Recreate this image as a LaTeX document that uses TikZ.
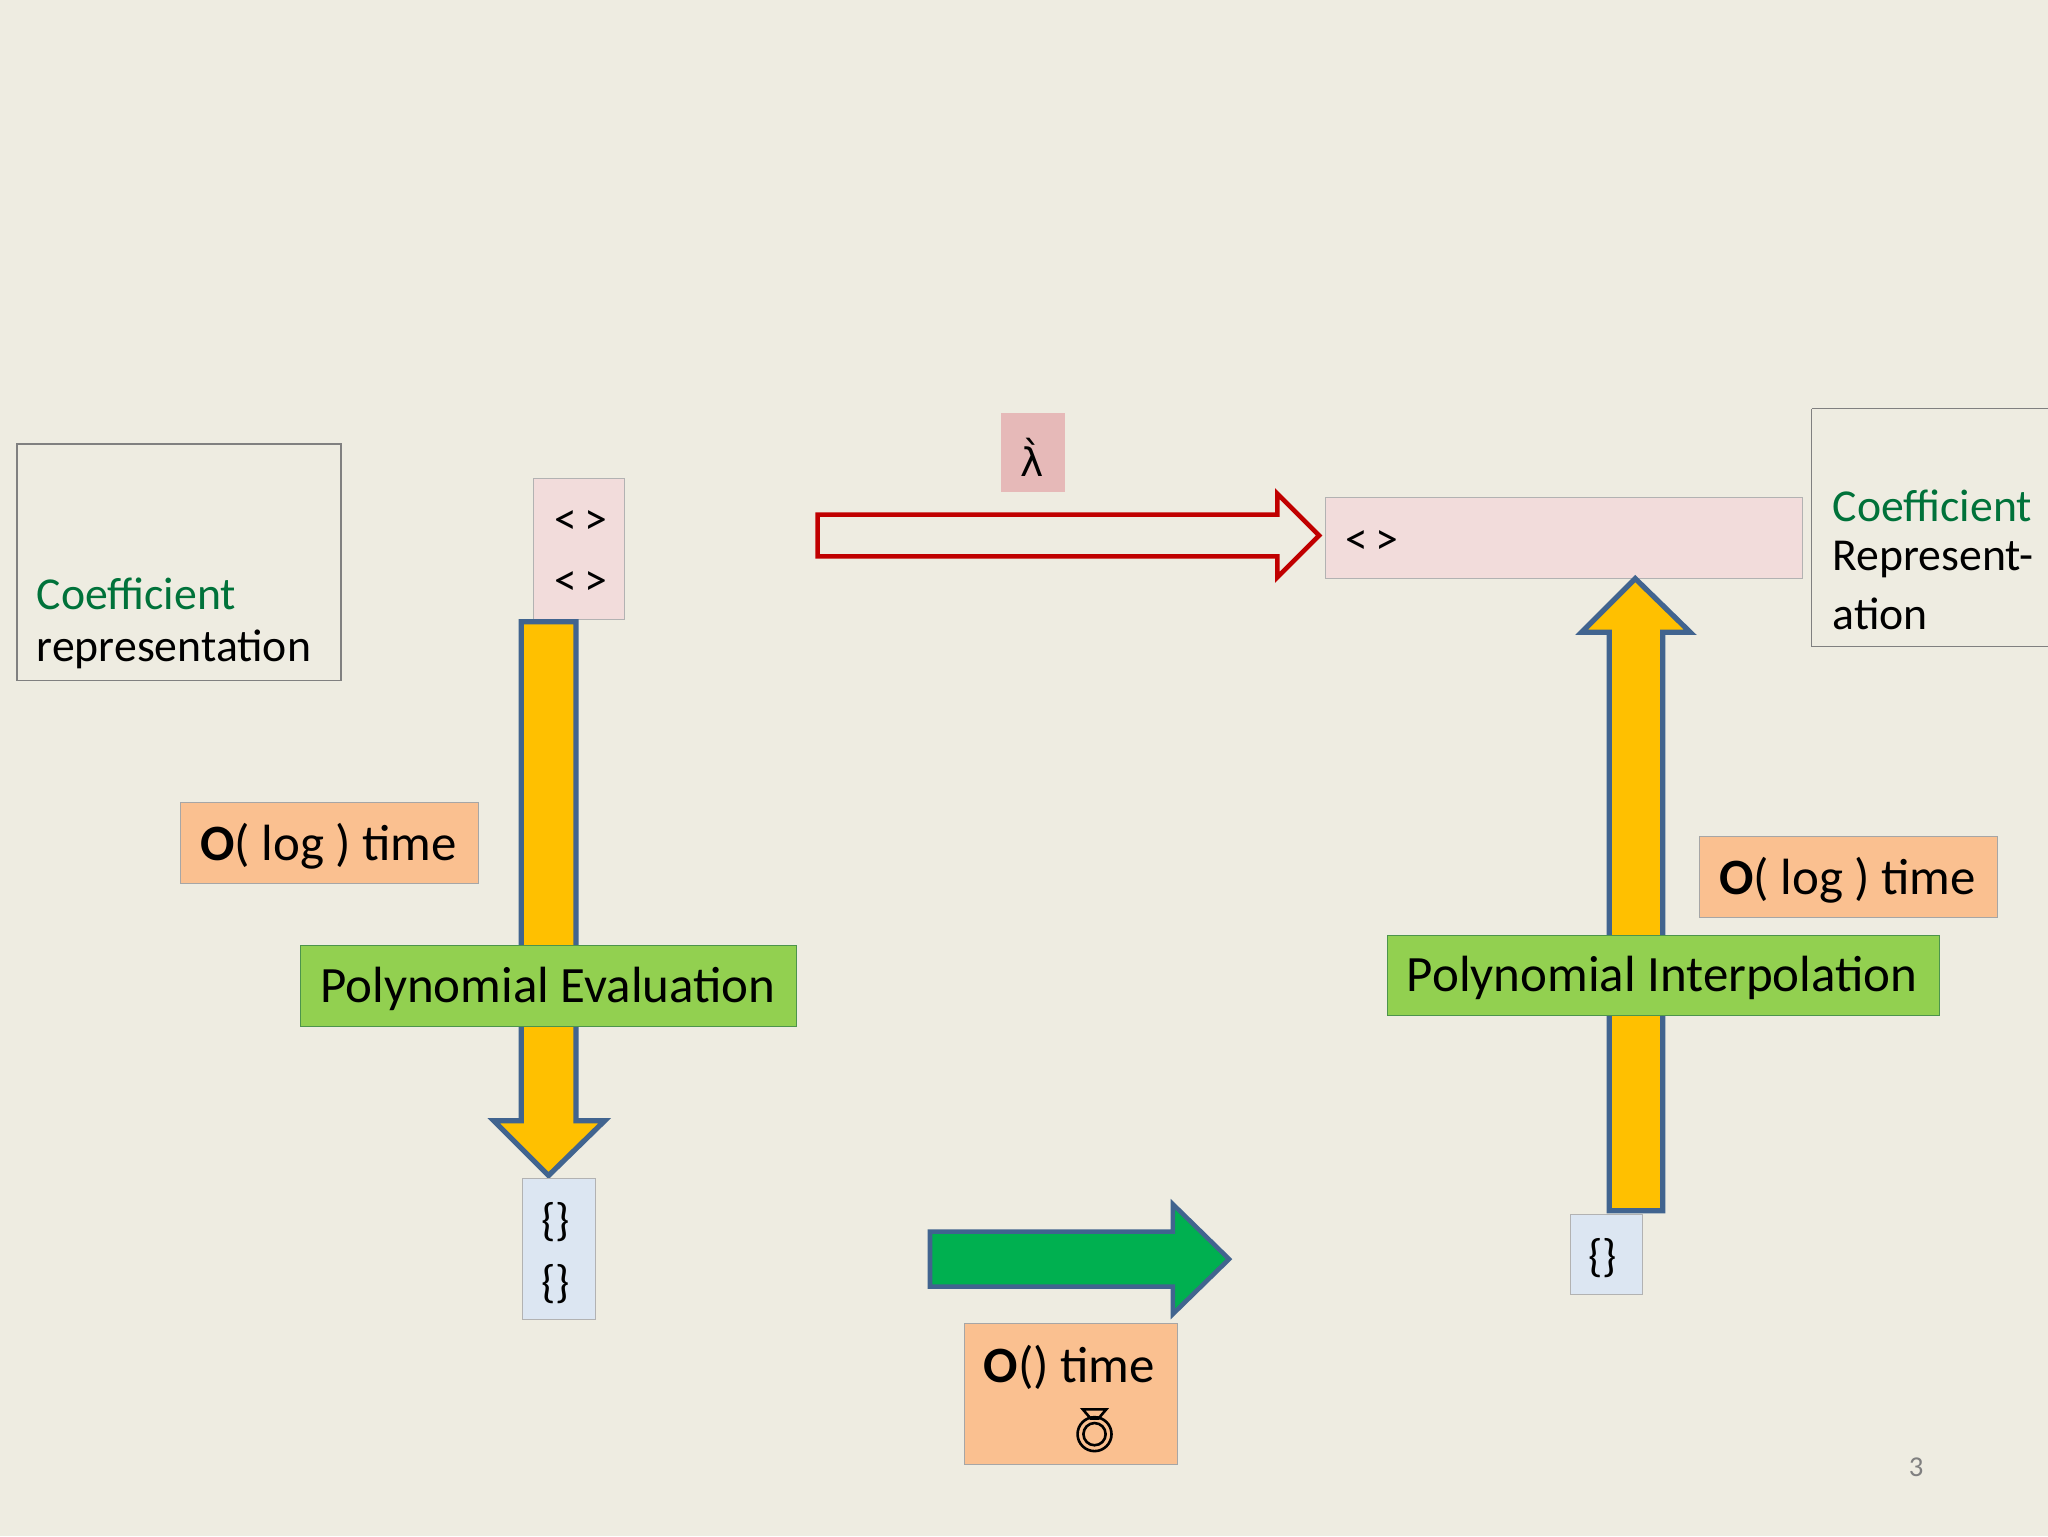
\documentclass[tikz,border=0pt]{standalone}
\usepackage{fontspec}
\setmainfont{Carlito}
\newfontfamily\djv{DejaVu Sans}
\begin{document}
\begin{tikzpicture}[x=1pt,y=-1pt,
 txt/.style={font=\fontsize{35}{40}\selectfont,inner sep=0pt,anchor=west},
 big/.style={font=\fontsize{39}{44}\selectfont,inner sep=0pt,anchor=west},
 yarrow/.style={fill=yellowA,draw=blueB,line width=4pt,line join=miter}]
\definecolor{bg}{HTML}{EEECE1}
\definecolor{yellowA}{HTML}{FFC000}
\definecolor{blueB}{HTML}{41648F}
\definecolor{orangeA}{HTML}{FAC090}
\definecolor{greenA}{HTML}{92D050}
\definecolor{greenT}{HTML}{00723A}
\definecolor{pinkA}{HTML}{F2DCDB}
\definecolor{pinkB}{HTML}{E6B9B8}
\definecolor{blueA}{HTML}{DCE6F2}
\definecolor{redA}{HTML}{C00000}
\definecolor{greenB}{HTML}{00B050}
\useasboundingbox (0,0) rectangle (1568,1176);
\fill[bg] (0,0) rectangle (1568,1176);
% left coefficient box
\draw[gray,line width=1pt] (13,340) rectangle (261,521);
\node[txt,text=greenT] (c1) at (28,455) {Coefficient};
\node[txt] (c2) at (28,497) {representation};
% small pink
\draw[fill=pinkA,draw=gray!60] (408,366) rectangle (478,474);
\node[txt] (p1) at (424,400) {<\,>};
\node[txt] (p2) at (424,447) {<\,>};
% yellow down arrow
\draw[yarrow] (399,476) -- (441,476) -- (441,858) -- (463,858) -- (420,900) -- (378,858) -- (399,858) -- cycle;
\fill[orangeA,draw=gray!70] (138,614) rectangle (366,676);
\node[big] (o1) at (153,648) {\textbf{O}( log ) time};
\fill[greenA,draw=green!40!black!70] (230,724) rectangle (610,786);
\node[big] (pe) at (245,757) {Polynomial Evaluation};
\draw[fill=blueA,draw=gray!60] (400,902) rectangle (456,1010);
\node[txt] (b1) at (414,936) {\{\}};
\node[txt] (b2) at (414,983) {\{\}};
% red hollow arrow
\draw[redA,fill=bg,line width=3.5pt] (626,394) -- (978,394) -- (978,378) -- (1010,410) -- (978,442) -- (978,426) -- (626,426) -- cycle;
\fill[pinkB] (766,316) rectangle (815,377);
\node[inner sep=0pt,font=\djv\fontsize{30}{34}\selectfont] (lam) at (790,350) {λ̀};
\draw[fill=pinkA,draw=gray!60] (1015,381) rectangle (1380,443);
\node[txt] (p3) at (1030,415) {<\,>};
% right coefficient box
\draw[gray,line width=1pt] (1387,313) -- (1568,313) (1568,495) -- (1387,495) -- (1387,313);
\node[txt,text=greenT] (c3) at (1403,387) {Coefficient};
\node[txt] (c4) at (1403,428) {Represent-};
\node[txt] (c5) at (1403,470) {ation};
% yellow up arrow
\draw[yarrow] (1232,927) -- (1273,927) -- (1273,484) -- (1294,484) -- (1252,443) -- (1211,484) -- (1232,484) -- cycle;
\fill[orangeA,draw=gray!70] (1301,640) rectangle (1529,702);
\node[big] (o2) at (1316,674) {\textbf{O}( log ) time};
\fill[greenA,draw=green!40!black!70] (1062,716) rectangle (1485,777);
\node[big] (pi) at (1077,749) {Polynomial Interpolation};
\draw[fill=blueA,draw=gray!60] (1202,930) rectangle (1257,991);
\node[txt] (b3) at (1216,963) {\{\}};
% green arrow
\draw[fill=greenB,draw=blueB,line width=3.5pt] (712,943) -- (898,943) -- (898,922) -- (941,964) -- (898,1006) -- (898,985) -- (712,985) -- cycle;
\fill[orangeA,draw=gray!70] (738,1013) rectangle (901,1121);
\node[big] (o3) at (753,1047) {\textbf{O}() time};
% ring glyph
\draw[line width=2pt] (838,1098) circle (13) (838,1098) circle (8.5);
\draw[line width=2pt] (829,1079) -- (847,1079) -- (841,1086) -- (835,1086) -- cycle;
\node[inner sep=0pt,text=gray,font=\fontsize{22}{24}\selectfont] (pg) at (1467,1123) {3};
\end{tikzpicture}
\end{document}
